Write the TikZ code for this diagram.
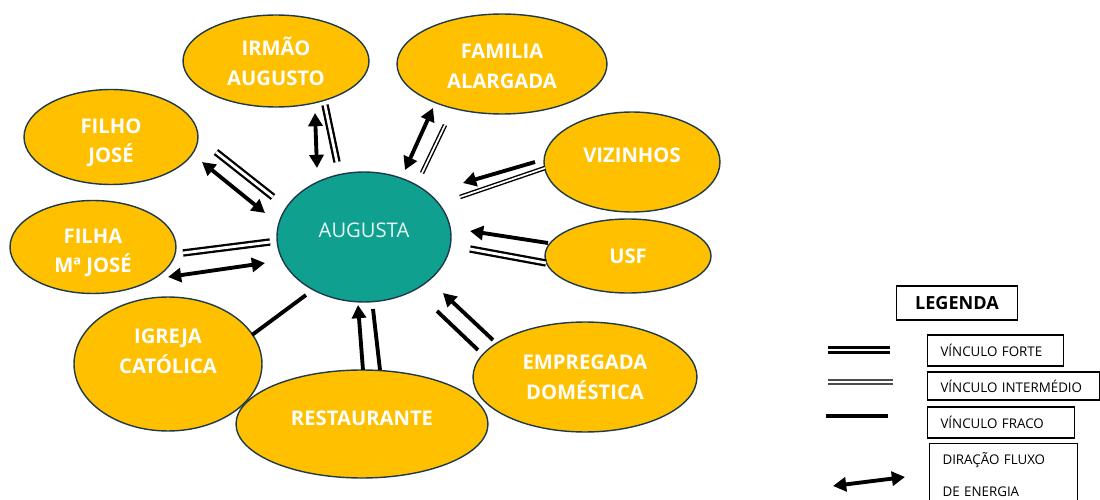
\documentclass[tikz,border=0pt]{standalone}
\usepackage{fontspec}
\setmainfont{Open Sans}
\setsansfont{Open Sans}
\usetikzlibrary{calc, shapes.geometric, arrows.meta}
\definecolor{CGold}{HTML}{FFC000}
\definecolor{CTeal}{HTML}{0FA08F}
\definecolor{CEdge}{HTML}{1E3A4C}

\begin{document}
\begin{tikzpicture}[x=0.02cm, y=-0.02cm,
    bolha/.style={ellipse, draw=CEdge, line width=0.8pt, fill=CGold, inner sep=0pt,
        text=white, align=center, font=\bfseries\fontsize{11.5}{17}\selectfont},
    forte/.style={double, double distance=1.6pt, line width=1.3pt},
    intermedio/.style={double, double distance=1pt, line width=0.8pt},
    fraco/.style={line width=2.2pt},
    fluxo/.style={line width=2.2pt, -{Triangle[length=7.5pt, width=8pt]}},
    fluxoduplo/.style={line width=2.2pt, {Triangle[length=7.5pt, width=8pt]}-{Triangle[length=7.5pt, width=8pt]}},
    legcaixa/.style={draw, line width=0.6pt, anchor=west, align=left, inner xsep=0.26cm,
        font=\fontsize{7.6}{9}\selectfont}]
    \useasboundingbox (0, 0) rectangle (1100, 500);

    % centro
    \node [bolha, fill=CTeal, minimum width=3.48cm, minimum height=2.6cm, text depth=8pt,
        font=\fontsize{11.5}{13}\selectfont, text=white!90!CTeal] (aug) at (364, 237) {AUGUSTA};

    % rede
    \node [bolha, minimum width=3.72cm, minimum height=1.84cm] (irmao) at (276, 61) {IRMÃO\\AUGUSTO};
    \node [bolha, minimum width=4.2cm, minimum height=2cm, text height=28pt] (familia) at (502, 64) {FAMILIA\\ALARGADA};
    \node [bolha, minimum width=3.48cm, minimum height=1.9cm, text height=32pt] (filho) at (111, 137) {FILHO\\JOSÉ};
    \node [bolha, minimum width=3.52cm, minimum height=2cm, text depth=8pt] (vizinhos) at (632, 162) {VIZINHOS};
    \node [bolha, minimum width=3.32cm, minimum height=1.48cm] (usf) at (628, 256) {USF};
    \node [bolha, minimum width=3.32cm, minimum height=1.86cm, text height=32pt] (filha) at (93, 247) {FILHA\\Mª JOSÉ};
    \node [bolha, minimum width=3.76cm, minimum height=2.68cm, text depth=15pt] (igreja) at (168, 364) {IGREJA\\CATÓLICA};
    \node [bolha, minimum width=5.04cm, minimum height=2.16cm, text depth=7pt] (restaurante) at (362, 424) {RESTAURANTE};
    \node [bolha, minimum width=4.48cm, minimum height=2.2cm] (empregada) at (585, 377) {EMPREGADA\\DOMÉSTICA};

    % vinculos
    \draw [fluxoduplo] ($(irmao)+(39, 52)$) -- ($(aug)+(-47, -69)$);
    \draw [forte]      ($(irmao)+(49, 44)$) -- ($(aug)+(-27, -75)$);

    \draw [fluxoduplo] ($(familia)+(-69, 44)$) -- ($(aug)+(41, -67)$);
    \draw [intermedio] ($(familia)+(-57, 61)$) -- ($(aug)+(58, -64)$);

    \draw [forte]      ($(filho)+(105, 15)$) -- ($(aug)+(-91, -40)$);
    \draw [fluxoduplo] ($(filho)+(91, 25)$)  -- ($(aug)+(-99, -24)$);

    \draw [forte]      ($(filha)+(90, 6)$)  -- ($(aug)+(-94, 5)$);
    \draw [fluxoduplo] ($(filha)+(75, 30)$) -- ($(aug)+(-99, 26)$);

    \draw [fraco] ($(igreja)+(84, -29)$) -- ($(aug)+(-58, 58)$);

    \draw [fluxo] ($(restaurante)+(1, -54)$)  -- ($(aug)+(-6, 68)$);
    \draw [fraco] ($(restaurante)+(18, -54)$) -- ($(aug)+(9, 72)$);

    \draw [fluxo] ($(empregada)+(-92, -37)$)  -- ($(aug)+(79, 56)$);
    \draw [fraco] ($(empregada)+(-107, -27)$) -- ($(aug)+(73, 74)$);

    \draw [fluxo] ($(usf)+(-80, -13)$) -- ($(aug)+(106, -6)$);
    \draw [forte] ($(usf)+(-82, 7)$)   -- ($(aug)+(106, 12)$);

    \draw [fluxo]      ($(vizinhos)+(-97, 0)$) -- ($(aug)+(99, -54)$);
    \draw [intermedio] ($(vizinhos)+(-87, 6)$) -- ($(aug)+(96, -40)$);

    % legenda
    \node [draw, line width=0.6pt, minimum width=2.42cm, minimum height=0.68cm,
        font=\bfseries\fontsize{10.3}{12}\selectfont] (legenda) at (957, 303) {LEGENDA};
    \node [legcaixa, text width=2.2cm, minimum height=0.62cm] (lforte) at (927, 350.5) {VÍNCULO FORTE};
    \node [legcaixa, text width=2.92cm, minimum height=0.56cm] (lmedio) at (927, 386) {VÍNCULO INTERMÉDIO};
    \node [legcaixa, text width=2.42cm, minimum height=0.62cm] (lfraco) at (927, 422.5) {VÍNCULO FRACO};
    \node [legcaixa, text width=2.44cm, minimum height=1.24cm, anchor=north west,
        font=\fontsize{7.6}{18}\selectfont] (lfluxo) at (929, 443) {DIRAÇÃO FLUXO\\DE ENERGIA};

    \draw [forte]                     (828, 350) -- (890, 350);
    \draw [intermedio, line width=1pt, draw=black!70] (828, 382) -- (893, 382);
    \draw [fraco]                     (826, 416) -- (888, 416);
    \draw [fluxoduplo]                (833, 486) -- (905, 477);
\end{tikzpicture}
\end{document}
